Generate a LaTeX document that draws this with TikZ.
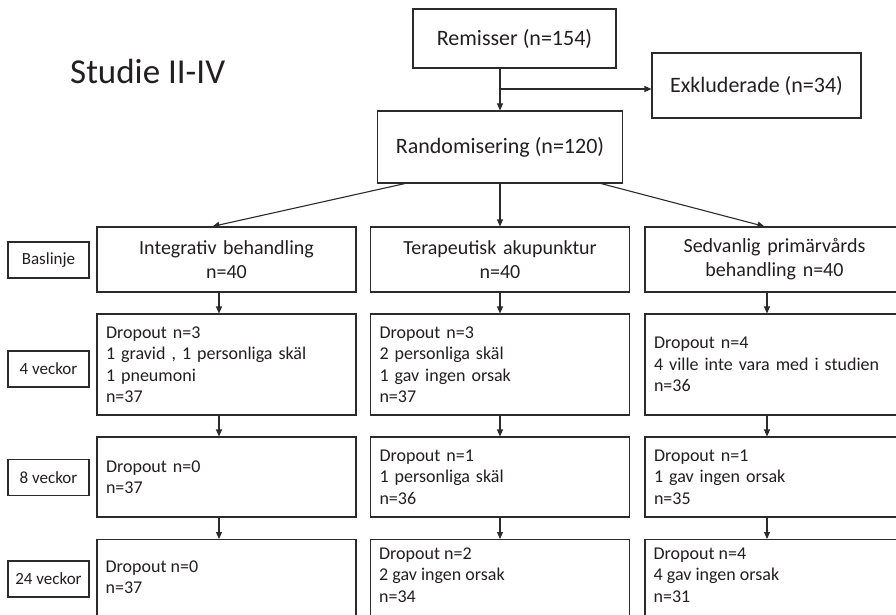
\documentclass[tikz,border=0pt]{standalone}
\usepackage{fontspec}
\setmainfont{Carlito}
\usetikzlibrary{arrows.meta,calc}
\definecolor{linec}{HTML}{2B2B2B}
\definecolor{textc}{HTML}{231F20}
\newcommand\fsz[2]{\fontsize{#1}{#2}\selectfont}
\tikzset{
  frame/.style={draw=linec, line width=1.1pt, text=textc, inner sep=0pt},
  topbox/.style={frame, font=\fsz{22}{26}, align=center},
  grpbox/.style={frame, minimum height=65pt, inner xsep=9pt, inner ysep=0pt, text width=241pt, align=center, font=\fsz{20}{24}},
  dropbox/.style={frame, inner xsep=9pt, inner ysep=0pt, text width=241pt, align=left, font=\fsz{18}{21.5}},
  droptxt/.style={text=textc, inner sep=0pt, anchor=west, align=left, font=\fsz{18}{21.5}},
  timebox/.style={frame, minimum width=81pt, minimum height=36pt, font=\fsz{17}{20}},
  arr/.style={draw=linec, line width=1.1pt, -{Triangle[length=7pt,width=6pt]}}
}
\begin{document}
\begin{tikzpicture}[x=1pt,y=-1pt]
\useasboundingbox (0,0) rectangle (896,615);
\clip (0,0) rectangle (896,615);
\fill[white] (0,0) rectangle (896,615);

\node[text=textc, font=\fsz{35}{40}, anchor=base west, inner sep=0pt] (title) at (70,84) {Studie II-IV};

\node[topbox, minimum width=203pt, minimum height=59pt] (rem) at (514.5,38.5) {Remisser (n=154)};
\node[topbox, minimum width=209pt, minimum height=65pt] (exk) at (756.5,85.5) {Exkluderade (n=34)};
\node[topbox, minimum width=245pt, minimum height=72pt] (ran) at (500,147) {Randomisering (n=120)};

\coordinate (xA) at (219,0);
\coordinate (xB) at (500,0);
\coordinate (xC) at (767,0);
\coordinate (br) at (500,89);

% row 1
\node[grpbox] (A1) at (226.5,259.5) {Integrativ behandling\\n=40};
\node[grpbox] (B1) at (500,259.5) {Terapeutisk akupunktur\\n=40};
\node[grpbox] (C1) at (774.5,259.5) {Sedvanlig primärvårds\\behandling n=40};

% row 2
\node[dropbox, minimum height=101pt] (A2) at (226.5,364.5) {Dropout n=3\\1 gravid , 1 personliga skäl\\1 pneumoni\\n=37};
\node[dropbox, minimum height=101pt] (B2) at (500,364.5) {Dropout n=3\\2 personliga skäl\\1 gav ingen orsak\\n=37};
\node[dropbox, minimum height=101pt] (C2) at (774.5,364.5) {Dropout n=4\\4 ville inte vara med i studien\\n=36};

% row 3
\node[dropbox, minimum height=80pt] (A3) at (226.5,477) {Dropout n=0\\n=37};
\node[dropbox, minimum height=80pt] (B3) at (500,477) {Dropout n=1\\1 personliga skäl\\n=36};
\node[dropbox, minimum height=80pt] (C3) at (774.5,477) {Dropout n=1\\1 gav ingen orsak\\n=35};

% row 4 (runs off the bottom edge)
\node[frame, minimum width=259pt, minimum height=90pt, anchor=north] (A4) at (226.5,539) {};
\node[frame, minimum width=259pt, minimum height=90pt, anchor=north] (B4) at (500,539) {};
\node[frame, minimum width=259pt, minimum height=90pt, anchor=north] (C4) at (774.5,539) {};
\node[droptxt] (A4t) at ($(A4.north west)+(9,38)$) {Dropout n=0\\n=37};
\node[droptxt] (B4t) at ($(B4.north west)+(9,36)$) {Dropout n=2\\2 gav ingen orsak\\n=34};
\node[droptxt] (C4t) at ($(C4.north west)+(9,36)$) {Dropout n=4\\4 gav ingen orsak\\n=31};

% time labels
\node[timebox] (t0) at (48.5,260) {Baslinje};
\node[timebox] (t4) at (48.5,369) {4 veckor};
\node[timebox] (t8) at (48.5,477.5) {8 veckor};
\node[timebox] (t24) at (48.5,579) {24 veckor};

% connectors
\draw[arr] (rem.south -| ran.north) -- (ran.north);
\draw[arr] (br) -- (br -| exk.west);
\draw[arr] ($(ran.south west)+(28,0)$) -- ($(A1.north west)+(116,0)$);
\draw[arr] (ran.south) -- (B1.north);
\draw[arr] ($(ran.south east)+(-22,0)$) -- ($(C1.north west)+(120,0)$);

\draw[arr] (A1.south -| xA) -- (A2.north -| xA);
\draw[arr] (A2.south -| xA) -- (A3.north -| xA);
\draw[arr] (A3.south -| xA) -- (A4.north -| xA);
\draw[arr] (B1.south -| xB) -- (B2.north -| xB);
\draw[arr] (B2.south -| xB) -- (B3.north -| xB);
\draw[arr] (B3.south -| xB) -- (B4.north -| xB);
\draw[arr] (C1.south -| xC) -- (C2.north -| xC);
\draw[arr] (C2.south -| xC) -- (C3.north -| xC);
\draw[arr] (C3.south -| xC) -- (C4.north -| xC);
\end{tikzpicture}
\end{document}
